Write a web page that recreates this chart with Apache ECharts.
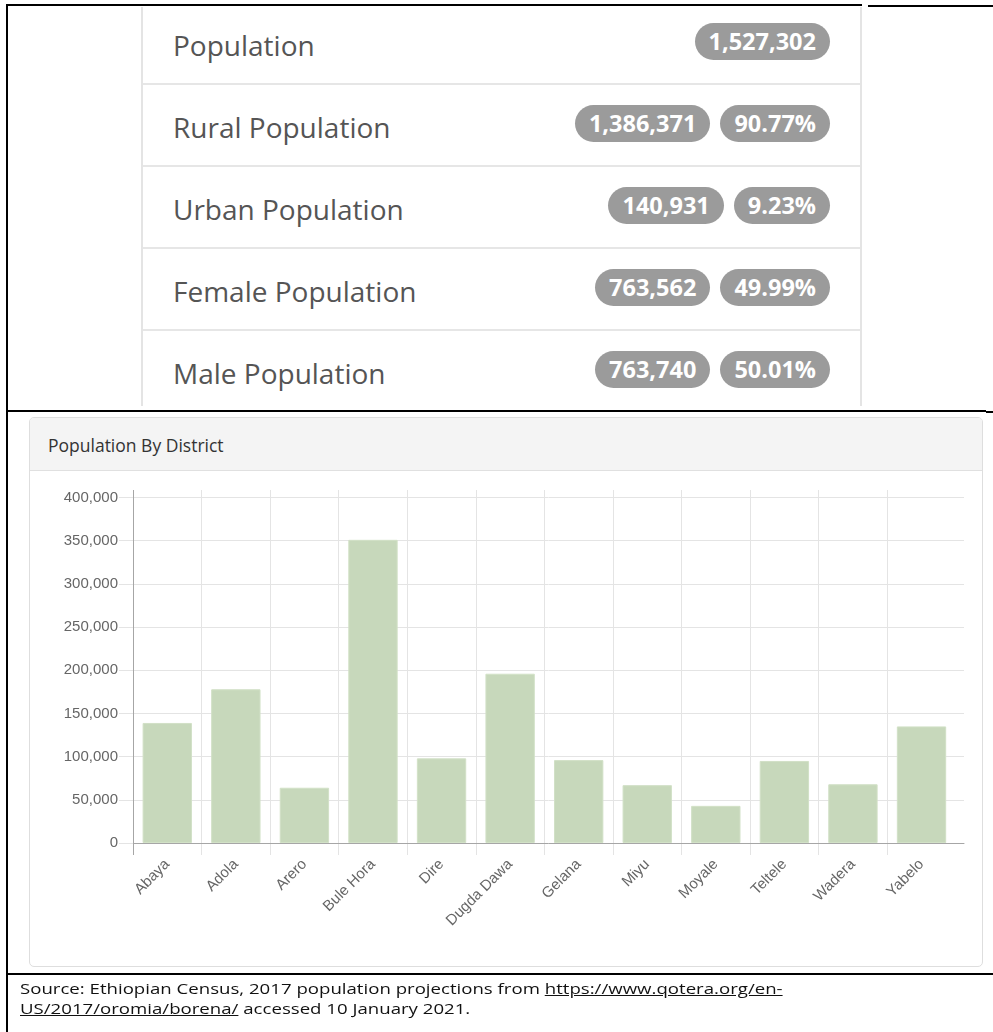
<!DOCTYPE html>
<html>
<head>
<meta charset="utf-8">
<script src="https://cdn.jsdelivr.net/npm/echarts@6/dist/echarts.min.js"></script>
<style>
  html, body { margin: 0; padding: 0; background: #fff; }
  body { width: 993px; height: 1032px; position: relative; overflow: hidden; font-family: "Open Sans", sans-serif; }
  .bl { position: absolute; background: #000; }
  #list { position: absolute; left: 141px; top: 7px; width: 721px; height: 399px; overflow: hidden;
          border-left: 2px solid #e4e4e4; border-right: 2px solid #e4e4e4; box-sizing: border-box; }
  .row { position: absolute; left: 0; right: 0; height: 82px; border-bottom: 2px solid #e6e6e6; box-sizing: border-box;
         display: flex; align-items: center; padding: 0 30px 0 30px; }
  .row .lbl { flex: 1; font-size: 28px; color: #555; padding-top: 3px; }
  .badge { display: inline-block; background: #9b9b9b; color: #fff; font-weight: 700; font-size: 23.5px;
           height: 37px; line-height: 37px; border-radius: 18.5px; padding: 0 14px; margin-left: 10px; margin-top: -3px; }
  #panel { position: absolute; left: 29px; top: 417px; width: 954px; height: 550px; box-sizing: border-box;
           border: 1px solid #dedede; border-radius: 5px; overflow: hidden; background: #fff; }
  #panel .hd { height: 53px; background: #f4f4f4; border-bottom: 1px solid #e0e0e0; box-sizing: border-box;
               font-size: 17.5px; color: #333; line-height: 54px; padding-left: 18px; }
  #chart { position: absolute; left: 0; top: 0; width: 993px; height: 1032px; }
  #src { position: absolute; left: 20px; top: 979px; font-size: 14px; line-height: 20px; color: #111;
         transform: scaleX(1.33); transform-origin: 0 0; white-space: nowrap; }
  #src u { text-decoration: underline; }
</style>
</head>
<body>
<div class="bl" style="left:6px;top:4px;width:856px;height:2px"></div>
<div class="bl" style="left:868px;top:5px;width:125px;height:2px"></div>
<div class="bl" style="left:6px;top:4px;width:2px;height:1028px"></div>
<div class="bl" style="left:6px;top:410px;width:980px;height:2px"></div>
<div class="bl" style="left:986px;top:411px;width:7px;height:2px"></div>
<div class="bl" style="left:6px;top:973px;width:987px;height:2px"></div>

<div id="list"></div>
<div id="panel"><div class="hd" id="ptitle"></div></div>
<div id="chart"></div>
<div id="src"></div>

<script>
// ---- data ----
const statLabels = ['Population', 'Rural Population', 'Urban Population', 'Female Population', 'Male Population'];
const statCounts = ['1,527,302', '1,386,371', '140,931', '763,562', '763,740'];
const statShares = [null, '90.77%', '9.23%', '49.99%', '50.01%'];

const chartTitle = 'Population By District';
const districts = ['Abaya', 'Adola', 'Arero', 'Bule Hora', 'Dire', 'Dugda Dawa', 'Gelana', 'Miyu', 'Moyale', 'Teltele', 'Wadera', 'Yabelo'];
const population = [139000, 178000, 64000, 351000, 98000, 196000, 96000, 67000, 43000, 95000, 68000, 135000];
const yTicks = [0, 50000, 100000, 150000, 200000, 250000, 300000, 350000, 400000];

const sourceLine1 = 'Source: Ethiopian Census, 2017 population projections from ';
const sourceLink1 = 'https://www.qotera.org/en-';
const sourceLink2 = 'US/2017/oromia/borena/';
const sourceLine2 = ' accessed 10 January 2021.';

// ---- stats list ----
const list = document.getElementById('list');
statLabels.forEach((lab, i) => {
  const r = document.createElement('div');
  r.className = 'row';
  r.style.top = (-4 + 82 * i) + 'px';
  const l = document.createElement('div');
  l.className = 'lbl';
  l.textContent = lab;
  r.appendChild(l);
  const b1 = document.createElement('span');
  b1.className = 'badge';
  b1.textContent = statCounts[i];
  r.appendChild(b1);
  if (statShares[i]) {
    const b2 = document.createElement('span');
    b2.className = 'badge';
    b2.textContent = statShares[i];
    r.appendChild(b2);
  }
  list.appendChild(r);
});

document.getElementById('ptitle').textContent = chartTitle;

const src = document.getElementById('src');
src.appendChild(document.createTextNode(sourceLine1));
const u1 = document.createElement('u'); u1.textContent = sourceLink1; src.appendChild(u1);
src.appendChild(document.createElement('br'));
const u2 = document.createElement('u'); u2.textContent = sourceLink2; src.appendChild(u2);
src.appendChild(document.createTextNode(sourceLine2));

// ---- chart ----
const W = 993, H = 1032;
const axisLeft = 133, gridRightA = 964, gridRightB = 955.8;
const yTopVal = 497.5, yZero = 843, gridTopB = 490, gridBottomB = 855;
const yMax = yTicks[yTicks.length - 1];
const perPx = yMax / (yZero - yTopVal);
const bMin = -(gridBottomB - yZero) * perPx;
const bMax = yMax + (yTopVal - gridTopB) * perPx;

const gridColor = '#e4e4e4';
const axisColor = '#a6a6a6';
const splitColors = [axisColor];
for (let i = 1; i < districts.length; i++) splitColors.push(gridColor);
splitColors.push('rgba(0,0,0,0)');

const chart = echarts.init(document.getElementById('chart'), null, { renderer: 'canvas' });
chart.setOption({
  animation: false,
  backgroundColor: 'transparent',
  grid: [
    { left: axisLeft, right: W - gridRightA, top: yTopVal, bottom: H - yZero },
    { left: axisLeft, right: W - gridRightB, top: gridTopB, bottom: H - gridBottomB }
  ],
  xAxis: [
    { gridIndex: 0, type: 'value', min: 0, max: 1,
      axisLine: { show: true, onZero: false, lineStyle: { color: axisColor, width: 1 } },
      axisTick: { show: false }, axisLabel: { show: false }, splitLine: { show: false } },
    { gridIndex: 1, type: 'category', data: districts, boundaryGap: true,
      axisLine: { show: false, onZero: false }, axisTick: { show: false },
      splitLine: { show: true, showMaxLine: false, interval: 0, lineStyle: { color: splitColors, width: 1 } },
      axisLabel: { interval: 0, rotate: 45, margin: 7, color: '#666', fontSize: 15, fontFamily: 'Liberation Sans' } }
  ],
  yAxis: [
    { gridIndex: 0, type: 'value', min: 0, max: yMax, interval: yTicks[1] - yTicks[0],
      axisLine: { show: false },
      axisTick: { show: true, length: 14, lineStyle: { color: gridColor } },
      axisLabel: { margin: 15, color: '#666', fontSize: 15, fontFamily: 'Liberation Sans',
                   formatter: v => v.toLocaleString('en-US') },
      splitLine: { show: true, lineStyle: { color: gridColor, width: 1 } } },
    { gridIndex: 1, type: 'value', min: bMin, max: bMax, show: false,
      axisLine: { show: false }, axisTick: { show: false }, axisLabel: { show: false }, splitLine: { show: false } }
  ],
  series: [{
    type: 'bar', xAxisIndex: 1, yAxisIndex: 1, data: population,
    barCategoryGap: '28%',
    itemStyle: { color: '#c7d8bb', borderColor: '#d2e1c7', borderWidth: 1 }
  }]
});
</script>
</body>
</html>
